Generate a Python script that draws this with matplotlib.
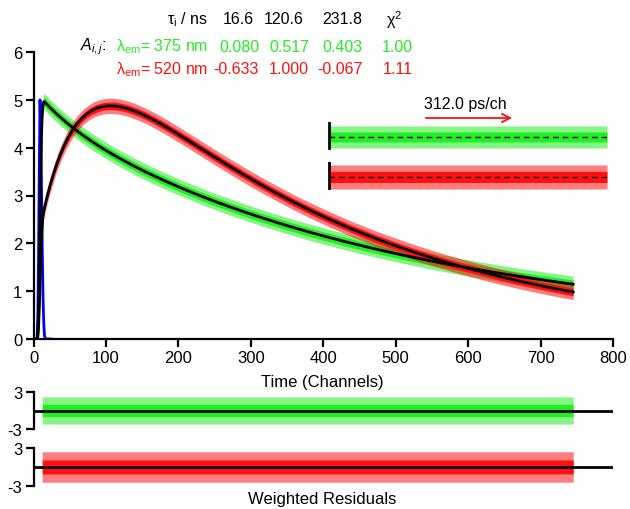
import numpy as np
import matplotlib
matplotlib.use("Agg")
import matplotlib.pyplot as plt
from matplotlib.patches import FancyArrowPatch

plt.rcParams['font.family'] = ['Liberation Sans', 'DejaVu Sans']
plt.rcParams['mathtext.fontset'] = 'custom'
plt.rcParams['mathtext.rm'] = 'Liberation Sans'
plt.rcParams['mathtext.it'] = 'Liberation Sans:italic'
plt.rcParams['axes.unicode_minus'] = False

# ---- fit parameters (global analysis) ----
ps_per_channel = 312.0
tau_ns = [16.6, 120.6, 231.8]
amp_375 = [0.080, 0.517, 0.403]
amp_520 = [-0.633, 1.000, -0.067]
chi2_375 = 1.00
chi2_520 = 1.11

# amplitude scaling of each decay (counts axis units)
scale_375 = 5.05
scale_520 = 7.9

# instrument response, channels 5..15
irf_channels = [5, 6, 7, 8, 9, 10, 11, 12, 13, 14, 15]
irf_values = [0.0, 0.5, 1.8, 3.6, 5.0, 4.4, 3.2, 2.0, 1.0, 0.4, 0.1]

# data range and noise envelopes (core / spike half-widths)
last_channel = 745
first_data_channel = 12
noise_375 = (0.09, 0.17)
noise_520 = (0.08, 0.16)
wres_375 = (1.0, 2.2)
wres_520 = (1.1, 2.4)

GREEN = '#22ee22'
RED = '#ff1010'
BLUE = '#0000ff'

ch = np.arange(0, last_channel + 1)
tau_ch = [t * 1000.0 / ps_per_channel for t in tau_ns]

irf = np.zeros_like(ch, dtype=float)
irf[irf_channels] = irf_values
irf_norm = irf / irf.sum()


def model(amps, scale):
    decay = sum(a * np.exp(-ch / tc) for a, tc in zip(amps, tau_ch))
    return scale * np.convolve(irf_norm, decay)[:len(ch)]


fit_375 = model(amp_375, scale_375)
fit_520 = model(amp_520, scale_520)

W, H = 630, 510
fig = plt.figure(figsize=(W / 100, H / 100), dpi=100)


def ax_at(x0, y0, x1, y1):
    return fig.add_axes([x0 / W, 1 - y1 / H, (x1 - x0) / W, (y1 - y0) / H])


def noisy_band(a, x, center, widths, col):
    core, spike = widths
    a.fill_between(x, center - spike, center + spike, color=col, alpha=0.55, lw=0)
    a.fill_between(x, center - core, center + core, color=col, lw=0)


X0, X1 = 33.5, 613
TICK_FS = 12

# ---- main decay panel ----
ax = ax_at(X0, 53, X1, 340)
dm = ch >= first_data_channel
noisy_band(ax, ch[dm], fit_375[dm], noise_375, GREEN)
noisy_band(ax, ch[dm], fit_520[dm], noise_520, RED)
ax.plot(ch[:25], irf[:25], color=BLUE, lw=2)
ax.plot(ch, fit_375, color='black', lw=2)
ax.plot(ch, fit_520, color='black', lw=2)

ax.set_xlim(0, 800)
ax.set_ylim(0, 6)
ax.set_xticks(range(0, 801, 100))
ax.set_yticks(range(0, 7))
for s in ['top', 'right']:
    ax.spines[s].set_visible(False)
for s in ['left', 'bottom']:
    ax.spines[s].set_linewidth(1.6)
ax.tick_params(direction='out', length=6, width=1.6, labelsize=TICK_FS, pad=2)
ax.patch.set_alpha(0)

fig.text(322 / W, 1 - 383 / H, 'Time (Channels)', ha='center', va='center', fontsize=TICK_FS)

# ---- inset: residual overview with time scale ----
for (y0, y1), widths, col in [((123, 153), wres_375, GREEN), ((163, 193), wres_520, RED)]:
    ia = ax_at(328, y0, 607, y1)
    noisy_band(ia, ch[dm], np.zeros(dm.sum()), widths, col)
    ia.plot(ch[dm], np.zeros(dm.sum()), color='black', lw=1, ls=(0, (4, 3)))
    ia.plot([first_data_channel, first_data_channel], [-2.2, 3], color='black', lw=2)
    ia.set_xlim(first_data_channel - 2, last_channel)
    ia.set_ylim(-3, 3)
    ia.axis('off')

fig.text(465 / W, 1 - 105 / H, '312.0 ps/ch', ha='center', va='center', fontsize=11.5)
fig.add_artist(FancyArrowPatch(
    (423 / W, 1 - 119 / H), (515 / W, 1 - 119 / H), transform=fig.transFigure,
    arrowstyle='->,head_length=6,head_width=3', color=RED, lw=1.3))

# ---- weighted residual panels ----
for (y0, y1), widths, col in [((393, 430), wres_375, GREEN), ((449, 487), wres_520, RED)]:
    ra = ax_at(X0, y0, X1, y1)
    noisy_band(ra, ch[dm], np.zeros(dm.sum()), widths, col)
    ra.plot([0, 800], [0, 0], color='black', lw=2)
    ra.set_xlim(0, 800)
    ra.set_ylim(-3, 3)
    ra.set_yticks([-3, 3])
    ra.set_xticks([])
    for s in ['top', 'right', 'bottom']:
        ra.spines[s].set_visible(False)
    ra.spines['left'].set_linewidth(1.6)
    ra.tick_params(direction='out', length=6, width=1.6, labelsize=TICK_FS, pad=2)
    ra.patch.set_alpha(0)

fig.text(322 / W, 1 - 500 / H, 'Weighted Residuals', ha='center', va='center', fontsize=TICK_FS)

# ---- parameter table ----
fs = 11.5
fig.text(208 / W, 1 - 20 / H, 'τ$_\\mathrm{i}$ / ns', ha='right', va='center', fontsize=fs)
for xr, t in zip([254, 304, 362], tau_ns):
    fig.text(xr / W, 1 - 20 / H, f'{t:.1f}', ha='right', va='center', fontsize=fs)
fig.text(402 / W, 1 - 20 / H, 'χ$^\\mathrm{2}$', ha='right', va='center', fontsize=fs)

fig.text(107 / W, 1 - 47 / H, r'$A_{i,j}$:', ha='right', va='center', fontsize=fs)
rows = [(47, '375', amp_375, chi2_375, GREEN), (70, '520', amp_520, chi2_520, RED)]
for y, lam, amps, chi, col in rows:
    fig.text(208 / W, 1 - y / H, 'λ$_\\mathrm{em}$= ' + lam + ' nm', ha='right',
             va='center', fontsize=fs, color=col)
    for xr, a in zip([259, 309, 363], amps):
        fig.text(xr / W, 1 - y / H, f'{a:.3f}', ha='right', va='center', fontsize=fs, color=col)
    fig.text(413 / W, 1 - y / H, f'{chi:.2f}', ha='right', va='center', fontsize=fs, color=col)

fig.savefig('out.png', dpi=100)
